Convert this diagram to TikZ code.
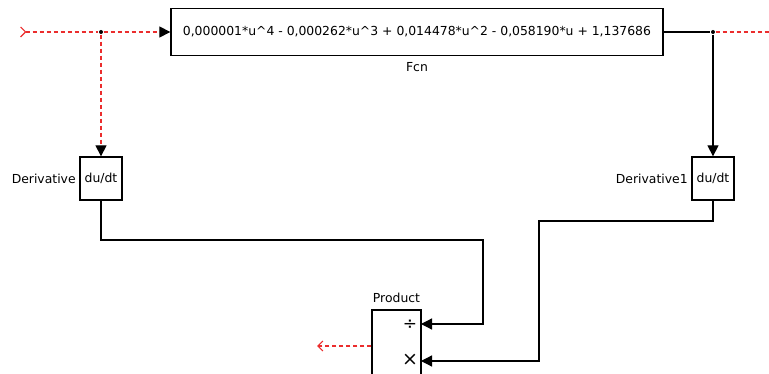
\documentclass[tikz,border=0pt]{standalone}
\usepackage{fontspec}
\setmainfont{DejaVu Sans}
\usepackage{xcolor}
\usepackage{tikz}
\usetikzlibrary{arrows.meta,positioning}

\definecolor{sigred}{RGB}{235,45,45}

\begin{document}
\begin{tikzpicture}[
  x=1pt, y=-1pt,
  font=\fontsize{12.4}{14}\selectfont,
  line width=1.3pt,
  blk/.style={draw, line width=1.3pt, fill=white, inner sep=0pt},
  lbl/.style={inner sep=1pt},
  arr/.style={-{Triangle[length=11pt,width=11pt]}},
  sig/.style={draw=sigred, line width=1.2pt, dash pattern=on 4pt off 3pt},
  tip/.style={-{Triangle[length=11pt,width=11pt,color=black,fill=black]}},
  dot/.style={circle, fill=black, inner sep=0pt, minimum size=4pt},
]
\useasboundingbox (0,0) rectangle (769,374);
\clip (0,0) rectangle (769,374);

% blocks
\node[blk, minimum width=492pt, minimum height=47pt] (fcn) at (417,32)
  {0,000001*u\^{}4 - 0,000262*u\^{}3 + 0,014478*u\^{}2 - 0,058190*u + 1,137686};
\node[lbl, below=5pt of fcn] (fcnlbl) {Fcn};
\node[blk, minimum width=42pt, minimum height=43pt] (der) at (101,178.5) {du/dt};
\node[lbl, left=2pt of der] (derlbl) {Derivative};
\node[blk, minimum width=42pt, minimum height=43pt] (der1) at (713,178.5) {du/dt};
\node[lbl, left=2pt of der1] (der1lbl) {Derivative1};
\node[blk, minimum width=49pt, minimum height=90pt] (prod) at (396.5,355) {};
\node[lbl, above=5pt of prod] (prodlbl) {Product};
\node[font=\fontsize{17}{17}\selectfont] (pdivsym) at (410,325) {÷};
\node[font=\fontsize{19}{19}\selectfont] (pmulsym) at (410,360) {×};

% ports and branch points
\coordinate (in) at (20,32);
\coordinate (out) at (317,346);
\coordinate (rout) at (775,32);
\coordinate (pdiv) at (421,324);
\coordinate (pmul) at (421,361);
\node[dot] (split1) at (101,32) {};
\node[dot] (split2) at (713,32) {};

% connectors
\draw[sig, {Straight Barb[reversed,length=5pt,width=10pt,color=sigred]}-] (in) -- (split1);
\draw[sig, tip] (split1) -- (fcn.west);
\draw[sig, tip] (split1) -- (der.north);
\draw (fcn.east) -- (split2);
\draw[sig] (split2) -- (rout);
\draw[arr] (split2) -- (der1.north);
\draw[arr] (der.south) -- (101,240) -| (483,324) -- (pdiv);
\draw[arr] (der1.south) -- (713,221) -| (539,361) -- (pmul);
\draw[sig, -{Straight Barb[length=5pt,width=10pt]}] (prod.west |- out) -- (out);
\end{tikzpicture}
\end{document}
